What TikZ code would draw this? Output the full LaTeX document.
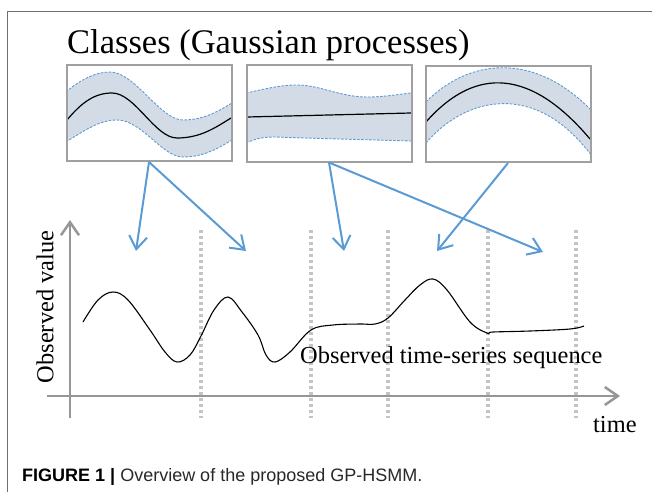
\documentclass[tikz,border=0pt]{standalone}
\usepackage{fontspec}
\setmainfont{Liberation Serif}
\newfontfamily\capfont{Liberation Sans}
\usetikzlibrary{arrows.meta}
\definecolor{gpblue}{RGB}{91,155,213}
\definecolor{gpband}{RGB}{211,220,230}
\definecolor{boxgray}{RGB}{160,160,160}
\definecolor{axisgray}{RGB}{150,150,150}
\definecolor{dotgray}{RGB}{196,196,196}
\definecolor{framegray}{RGB}{110,110,110}
\tikzset{
  gpbox/.style={draw=boxgray, line width=2pt, minimum width=165pt, minimum height=96pt, inner sep=0pt},
  bandline/.style={draw=gpblue, line width=0.9pt, dash pattern=on 2.5pt off 1.5pt},
  bandfill/.style={fill=gpband},
  meanline/.style={draw=black, line width=1.2pt},
  assign/.style={draw=gpblue, line width=2pt, -{Straight Barb[length=13pt,width=18pt,line width=2pt]}},
  axisline/.style={draw=axisgray, line width=2.5pt, -{Straight Barb[length=13pt,width=18pt,line width=2.5pt]}},
  segline/.style={draw=dotgray, line width=3.2pt, dash pattern=on 3pt off 3pt},
  lbl/.style={font=\fontsize{24.4}{28}\selectfont, inner sep=0pt},
}
\begin{document}
\begin{tikzpicture}[x=1pt,y=-1pt]
\useasboundingbox (0,0) rectangle (652,492);
% frame
\draw[framegray, line width=0.9pt] (652,11) -- (7,11) -- (7,492);
% title
\node[anchor=base west, inner sep=0pt, font=\fontsize{34.5}{38}\selectfont] (title) at (67,54) {Classes (Gaussian processes)};
% ---- box 1 band
\fill[bandfill] (66,92) .. controls (80,80) and (95,72) .. (110,72) .. controls (135,72) and (160,120) .. (183,120) .. controls (205,120) and (220,110) .. (232,103)
  -- (232,140) .. controls (220,147) and (205,157) .. (183,157) .. controls (162,157) and (142,120) .. (117,120) .. controls (100,120) and (85,130) .. (66,142) -- cycle;
\draw[bandline] (66,92) .. controls (80,80) and (95,72) .. (110,72) .. controls (135,72) and (160,120) .. (183,120) .. controls (205,120) and (220,110) .. (232,103);
\draw[bandline] (66,142) .. controls (85,130) and (100,120) .. (117,120) .. controls (142,120) and (162,157) .. (183,157) .. controls (205,157) and (220,147) .. (232,140);
\draw[meanline] (67,120) .. controls (82,102) and (95,93) .. (112,93) .. controls (135,93) and (155,138) .. (177,138) .. controls (200,138) and (215,128) .. (231,118);
% ---- box 2 band
\fill[bandfill] (246,93) .. controls (265,89) and (280,85) .. (297,85) .. controls (320,85) and (340,97) .. (367,97) .. controls (385,97) and (400,94) .. (411,93)
  -- (411,141) .. controls (340,139) and (300,138) .. (275,137) .. controls (262,137) and (255,139) .. (246,143) -- cycle;
\draw[bandline] (246,93) .. controls (265,89) and (280,85) .. (297,85) .. controls (320,85) and (340,97) .. (367,97) .. controls (385,97) and (400,94) .. (411,93);
\draw[bandline] (246,143) .. controls (255,139) and (262,137) .. (275,137) .. controls (300,138) and (340,139) .. (411,141);
\draw[meanline] (247,117) -- (411,113);
% ---- box 3 band
\fill[bandfill] (426,102) .. controls (465,62) and (530,48) .. (591,110)
  -- (591,155) .. controls (535,80) and (465,97) .. (426,143) -- cycle;
\draw[bandline] (426,102) .. controls (465,62) and (530,48) .. (591,110);
\draw[bandline] (426,143) .. controls (465,97) and (535,80) .. (591,155);
\draw[meanline] (426,122) .. controls (470,72) and (525,62) .. (590,139);
% boxes
\node[gpbox] (b1) at (149,113) {};
\node[gpbox] (b2) at (329,113.5) {};
\node[gpbox] (b3) at (508,114) {};
% segment boundaries
\foreach \xx/\nm in {201/s1,311/s2,388/s3,488/s4,576/s5}{
  \coordinate (\nm t) at (\xx,230);
  \coordinate (\nm b) at (\xx,418);
  \draw[segline] (\nm t) -- (\nm b);
}
% axes
\coordinate (yb) at (70,418);
\coordinate (yt) at (70,220);
\coordinate (xl) at (47,396);
\coordinate (xr) at (620,396);
\draw[axisline] (yb) -- (yt);
\draw[axisline] (xl) -- (xr);
% observed sequence
\draw[black, line width=1.1pt] plot[smooth, tension=0.6] coordinates {
 (83,322) (98,300) (113,292) (128,300) (150,330) (165,352) (177,362) (190,355) (201,336)
 (214,310) (228,297) (242,312) (258,335) (266,355) (275,362) (290,352) (311,330)
 (333,325) (360,324) (375,324) (388,318) (405,300) (420,285) (433,279) (447,290) (470,322)
 (487,333) (493,332) (530,331) (570,329) (584,326)};
% arrows
\coordinate (t1) at (136,251);
\coordinate (t2) at (246,251);
\coordinate (t3) at (344,251);
\coordinate (t4) at (437,251);
\coordinate (t5) at (543,252);
\draw[assign] (b1.south) -- (t1);
\draw[assign] (b1.south) -- (t2);
\draw[assign] (b2.south) -- (t3);
\draw[assign] (b2.south) -- (t5);
\draw[assign] (b3.south) -- (t4);
% labels
\node[lbl, rotate=90] (ylab) at (45,307) {Observed value};
\node[lbl, anchor=base west] (seq) at (300,363) {Observed time-series sequence};
\node[lbl, anchor=base west] (time) at (593,432) {time};
% caption
\node[anchor=base west, inner sep=0pt, font=\capfont\fontsize{18}{20}\selectfont] (cap) at (22,481)
  {\textbf{FIGURE 1 |} \textcolor[RGB]{40,40,40}{Overview of the proposed GP-HSMM.}};
\end{tikzpicture}
\end{document}
